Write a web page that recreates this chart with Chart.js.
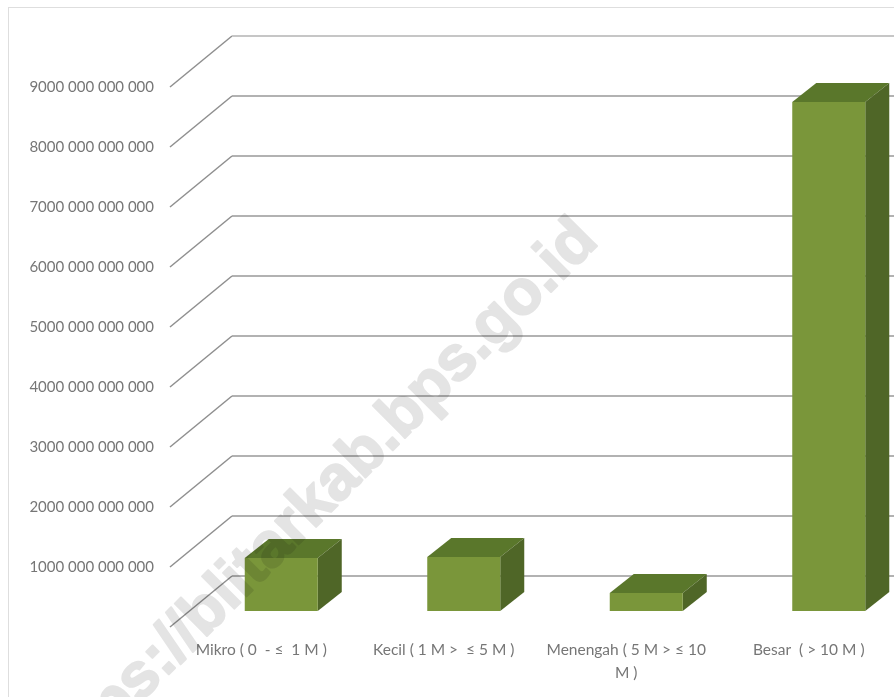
<!DOCTYPE html>
<html>
<head>
<meta charset="utf-8">
<style>
	html, body { margin: 0; padding: 0; background: #fff; overflow: hidden; }
	canvas { display: block; }
</style>
<script src="https://cdn.jsdelivr.net/npm/chart.js@4"></script>
</head>
<body>
<canvas id="chart" width="900" height="697"></canvas>
<script>
const categories = [
	'Mikro ( 0  - ≤  1 M )',
	'Kecil ( 1 M >  ≤ 5 M )',
	['Menengah ( 5 M > ≤ 10', 'M )'],
	'Besar  ( > 10 M )'
];
const values = [883e9, 900e9, 300e9, 8483e9];
const tickLabels = [
	'',
	'1000 000 000 000',
	'2000 000 000 000',
	'3000 000 000 000',
	'4000 000 000 000',
	'5000 000 000 000',
	'6000 000 000 000',
	'7000 000 000 000',
	'8000 000 000 000',
	'9000 000 000 000'
];
const watermark = 'https://blitarkab.bps.go.id';

// the picture is a 3D column chart, so the walls and the box sides are added by hand
const wall = { dx: 62, dy: -51 };
const barShift = { dx: 20, dy: -16 };
const barDepth = { dx: 24, dy: -19 };

const gray = '#767676';

const frame = {
	id: 'frame',
	beforeDraw(chart) {
		const ctx = chart.ctx;
		ctx.save();
		ctx.fillStyle = '#fff';
		ctx.fillRect(0, 0, chart.width, chart.height);
		ctx.strokeStyle = '#dedede';
		ctx.lineWidth = 1;
		ctx.strokeRect(8.5, 7.5, 1000, 1000);
		ctx.restore();
	}
};

const walls = {
	id: 'walls',
	beforeDatasetsDraw(chart) {
		const ctx = chart.ctx;
		const y = chart.scales.y;
		const left = chart.chartArea.left;
		ctx.save();
		y.ticks.forEach(t => {
			const py = y.getPixelForValue(t.value);
			// diagonal on the floor side
			ctx.strokeStyle = '#8f8f8f';
			ctx.lineWidth = 1.5;
			ctx.beginPath();
			ctx.moveTo(left, py);
			ctx.lineTo(left + wall.dx, py + wall.dy);
			ctx.stroke();
			// back wall
			ctx.strokeStyle = t.value === y.max ? '#c6c6c6' : '#999999';
			ctx.lineWidth = t.value === y.max ? 2 : 1.6;
			ctx.beginPath();
			ctx.moveTo(left + wall.dx, py + wall.dy);
			ctx.lineTo(chart.width, py + wall.dy);
			ctx.stroke();
		});
		ctx.restore();
	}
};

const boxes = {
	id: 'boxes',
	beforeDatasetsDraw(chart) {
		const ctx = chart.ctx;
		ctx.save();
		ctx.translate(barShift.dx, barShift.dy);
		chart.getDatasetMeta(0).data.forEach(bar => {
			const l = bar.x - bar.width / 2;
			const r = bar.x + bar.width / 2;
			const t = bar.y;
			const b = bar.base;
			// top face
			ctx.fillStyle = '#5a772b';
			ctx.beginPath();
			ctx.moveTo(l, t);
			ctx.lineTo(l + barDepth.dx, t + barDepth.dy);
			ctx.lineTo(r + barDepth.dx, t + barDepth.dy);
			ctx.lineTo(r, t);
			ctx.closePath();
			ctx.fill();
			// side face
			ctx.fillStyle = '#4f6627';
			ctx.beginPath();
			ctx.moveTo(r, t);
			ctx.lineTo(r + barDepth.dx, t + barDepth.dy);
			ctx.lineTo(r + barDepth.dx, b + barDepth.dy);
			ctx.lineTo(r, b);
			ctx.closePath();
			ctx.fill();
		});
	},
	afterDatasetsDraw(chart) {
		chart.ctx.restore();
	}
};

const stamp = {
	id: 'stamp',
	afterDraw(chart) {
		// fill and stroke go on a spare canvas first, so multiply only darkens once
		const spare = document.createElement('canvas');
		spare.width = chart.width;
		spare.height = chart.height;
		const c = spare.getContext('2d');
		c.translate(600, 243);
		c.rotate(-Math.PI / 4);
		c.font = 'bold 63px "Liberation Sans"';
		c.textAlign = 'right';
		c.fillStyle = '#e4e4e4';
		c.strokeStyle = '#e4e4e4';
		c.lineWidth = 2;
		c.lineJoin = 'round';
		c.strokeText(watermark, 0, 0);
		c.fillText(watermark, 0, 0);

		const ctx = chart.ctx;
		ctx.save();
		ctx.globalCompositeOperation = 'multiply';
		ctx.drawImage(spare, 0, 0);
		ctx.restore();
	}
};

new Chart(document.getElementById('chart'), {
	type: 'bar',
	data: {
		labels: categories,
		datasets: [{
			data: values,
			backgroundColor: '#7a963a',
			barPercentage: 0.4,
			categoryPercentage: 1,
			clip: false
		}]
	},
	options: {
		responsive: false,
		animation: false,
		layout: { padding: { top: 87, right: 0, bottom: 0, left: 0 } },
		plugins: {
			legend: { display: false },
			tooltip: { enabled: false }
		},
		scales: {
			x: {
				grid: { display: false, drawBorder: false },
				border: { display: false },
				afterFit: s => { s.height = 70; },
				ticks: {
					autoSkip: false,
					maxRotation: 0,
					padding: 3,
					color: gray,
					font: { family: 'Lato', size: 15.5, lineHeight: 1.5 }
				}
			},
			y: {
				min: 0,
				max: 9e12,
				grid: { display: false, drawBorder: false },
				border: { display: false },
				afterFit: s => { s.width = 170; },
				ticks: {
					stepSize: 1e12,
					padding: 8,
					color: gray,
					font: { family: 'Lato', size: 15 },
					callback: (v, i) => tickLabels[i]
				}
			}
		}
	},
	plugins: [frame, walls, boxes, stamp]
});
</script>
</body>
</html>
